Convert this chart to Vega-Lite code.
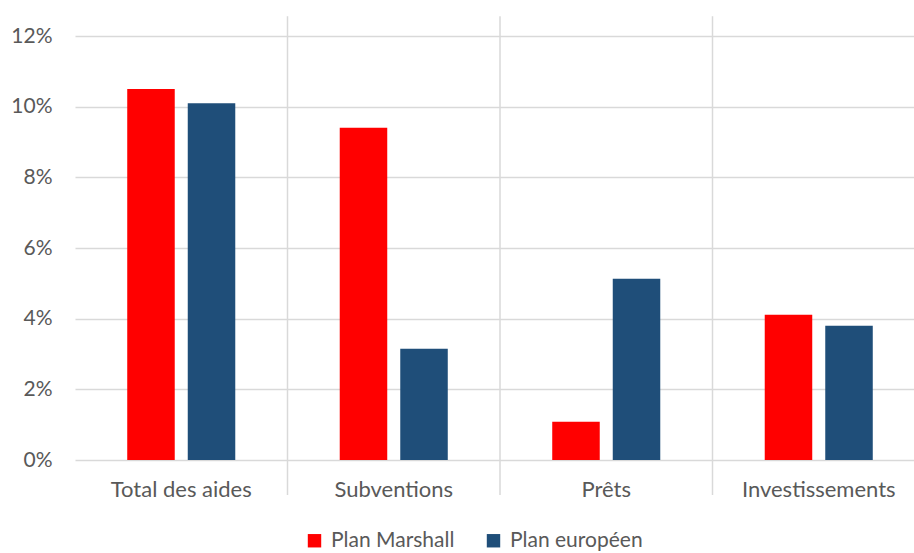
{
  "$schema": "https://vega.github.io/schema/vega-lite/v6.json",
  "width": 850,
  "height": 424,
  "autosize": "none",
  "padding": {"left": 75, "top": 36, "right": 0, "bottom": 93},
  "background": "white",
  "config": {"view": {"stroke": null}, "font": "Lato"},
  "data": {
    "values": [
      {"cat": "Total des aides", "plan": "Plan Marshall", "value": 0.105},
      {"cat": "Total des aides", "plan": "Plan européen", "value": 0.101},
      {"cat": "Subventions", "plan": "Plan Marshall", "value": 0.094},
      {"cat": "Subventions", "plan": "Plan européen", "value": 0.0315},
      {"cat": "Prêts", "plan": "Plan Marshall", "value": 0.0108},
      {"cat": "Prêts", "plan": "Plan européen", "value": 0.0513},
      {"cat": "Investissements", "plan": "Plan Marshall", "value": 0.0411},
      {"cat": "Investissements", "plan": "Plan européen", "value": 0.038}
    ]
  },
  "layer": [
    {
      "mark": {"type": "bar"},
      "encoding": {
        "x": {
          "field": "cat",
          "type": "nominal",
          "sort": ["Total des aides", "Subventions", "Prêts", "Investissements"],
          "scale": {"paddingInner": 0, "paddingOuter": 0},
          "axis": {"title": null, "labelAngle": 0, "domain": false, "ticks": false, "labelPadding": 19, "labelFontSize": 22, "labelColor": "#595959", "grid": false}
        },
        "xOffset": {
          "field": "plan",
          "type": "nominal",
          "sort": ["Plan Marshall", "Plan européen"],
          "scale": {"paddingInner": 0.215, "paddingOuter": 0.863}
        },
        "y": {
          "field": "value",
          "type": "quantitative",
          "scale": {"domain": [0, 0.12]},
          "axis": {"format": ".0%", "values": [0, 0.02, 0.04, 0.06, 0.08, 0.1, 0.12], "title": null, "domain": false, "ticks": false, "labelPadding": 23, "gridColor": "#D9D9D9", "gridWidth": 1.5, "labelFontSize": 21, "labelColor": "#595959"}
        },
        "color": {
          "field": "plan",
          "type": "nominal",
          "scale": {"domain": ["Plan Marshall", "Plan européen"], "range": ["#FF0000", "#1F4E79"]},
          "legend": {"title": null, "orient": "none", "legendX": 229, "legendY": 494, "direction": "horizontal", "symbolType": "square", "symbolSize": 180, "symbolStrokeWidth": 0, "labelFontSize": 21, "labelColor": "#595959", "labelOffset": 6, "columnPadding": 28, "padding": 0}
        }
      }
    },
    {
      "data": {"values": [{"cat": "Subventions"}, {"cat": "Prêts"}, {"cat": "Investissements"}]},
      "mark": {"type": "rule", "color": "#D9D9D9", "strokeWidth": 1.5},
      "encoding": {
        "x": {"field": "cat", "type": "nominal", "bandPosition": 0, "sort": ["Total des aides", "Subventions", "Prêts", "Investissements"]},
        "y": {"datum": 0.1256},
        "y2": {"datum": -0.0099}
      }
    }
  ]
}
